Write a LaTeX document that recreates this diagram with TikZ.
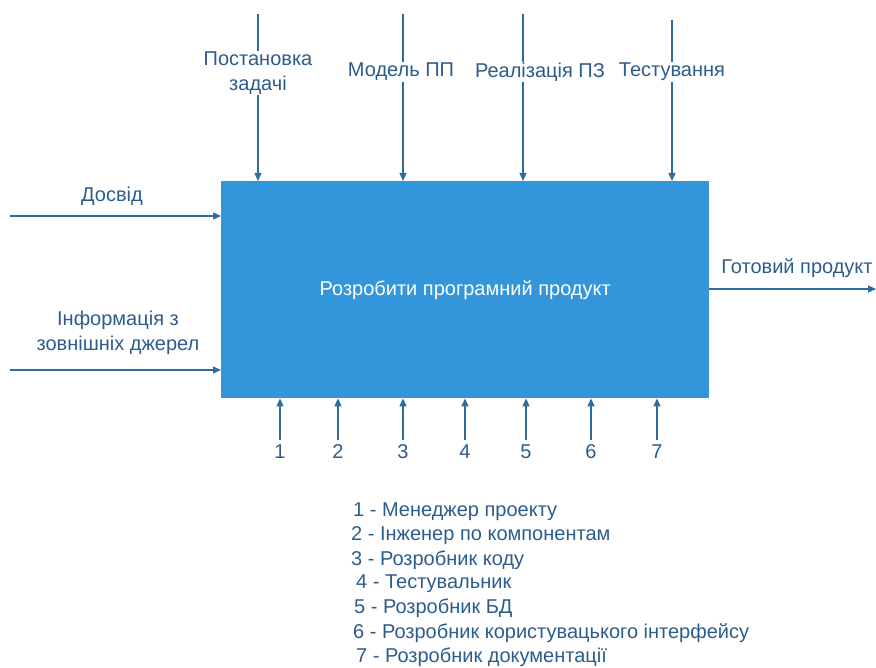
\documentclass[tikz,border=0pt]{standalone}
\usepackage{fontspec}
\setmainfont{Liberation Sans}
\usetikzlibrary{arrows.meta}
\definecolor{boxblue}{RGB}{52,150,218}
\definecolor{linecol}{RGB}{46,108,158}
\definecolor{txtcol}{RGB}{44,92,140}
\tikzset{
  flow/.style={draw=linecol, line width=1.2pt, -{Triangle[length=8pt,width=7pt]}},
  lbl/.style={text=txtcol, font=\fontsize{20}{25}\selectfont, inner sep=1pt, align=center},
  toplbl/.style={lbl, fill=white},
  num/.style={lbl},
  legend/.style={text=txtcol, font=\fontsize{20}{22}\selectfont, anchor=west, inner sep=0pt},
}
\begin{document}
\begin{tikzpicture}[x=1pt, y=-1pt]
\useasboundingbox (0,0) rectangle (876,668);

% main activity box
\node[fill=boxblue, minimum width=488pt, minimum height=217pt, inner sep=0pt, anchor=north west,
      text=white, font=\fontsize{20}{24}\selectfont] (box) at (221,181) {Розробити програмний продукт};

% controls from above
\coordinate (c1) at (258,14);
\coordinate (c2) at (403,14);
\coordinate (c3) at (523,14);
\coordinate (c4) at (672,20);
\draw[flow] (c1) -- (c1 |- box.north);
\draw[flow] (c2) -- (c2 |- box.north);
\draw[flow] (c3) -- (c3 |- box.north);
\draw[flow] (c4) -- (c4 |- box.north);
\node[toplbl] (t1) at (258,73) {Постановка\\задачі};
\node[toplbl] (t2) at (401,72) {Модель ПП};
\node[toplbl] (t3) at (540,72) {Реалізація ПЗ};
\node[toplbl] (t4) at (672,72) {Тестування};

% inputs from the left
\coordinate (i1) at (10,216);
\coordinate (i2) at (10,370);
\draw[flow] (i1) -- (i1 -| box.west);
\draw[flow] (i2) -- (i2 -| box.west);
\node[lbl] (l1) at (112,196) {Досвід};
\node[lbl] (l2) at (118,333) {Інформація з\\зовнішніх джерел};

% output
\coordinate (o1) at (876,289);
\draw[flow] (o1 -| box.east) -- (o1);
\node[lbl] (lo) at (797,268) {Готовий продукт};

% mechanisms from below
\foreach \n/\x in {1/280,2/338,3/403,4/465,5/526,6/591,7/657}{
  \node[num] (m\n) at (\x,452) {\n};
  \coordinate (mb\n) at (\x,440);
  \draw[flow] (mb\n) -- (mb\n |- box.south);
}

% legend
\node[legend] (g1) at (353,512) {1 - Менеджер проекту};
\node[legend] (g2) at (351,536) {2 - Інженер по компонентам};
\node[legend] (g3) at (351,560) {3 - Розробник коду};
\node[legend] (g4) at (356,584) {4 - Тестувальник};
\node[legend] (g5) at (354,608) {5 - Розробник БД};
\node[legend] (g6) at (353,633) {6 - Розробник користувацького інтерфейсу};
\node[legend] (g7) at (356,657) {7 - Розробник документації};
\end{tikzpicture}
\end{document}
